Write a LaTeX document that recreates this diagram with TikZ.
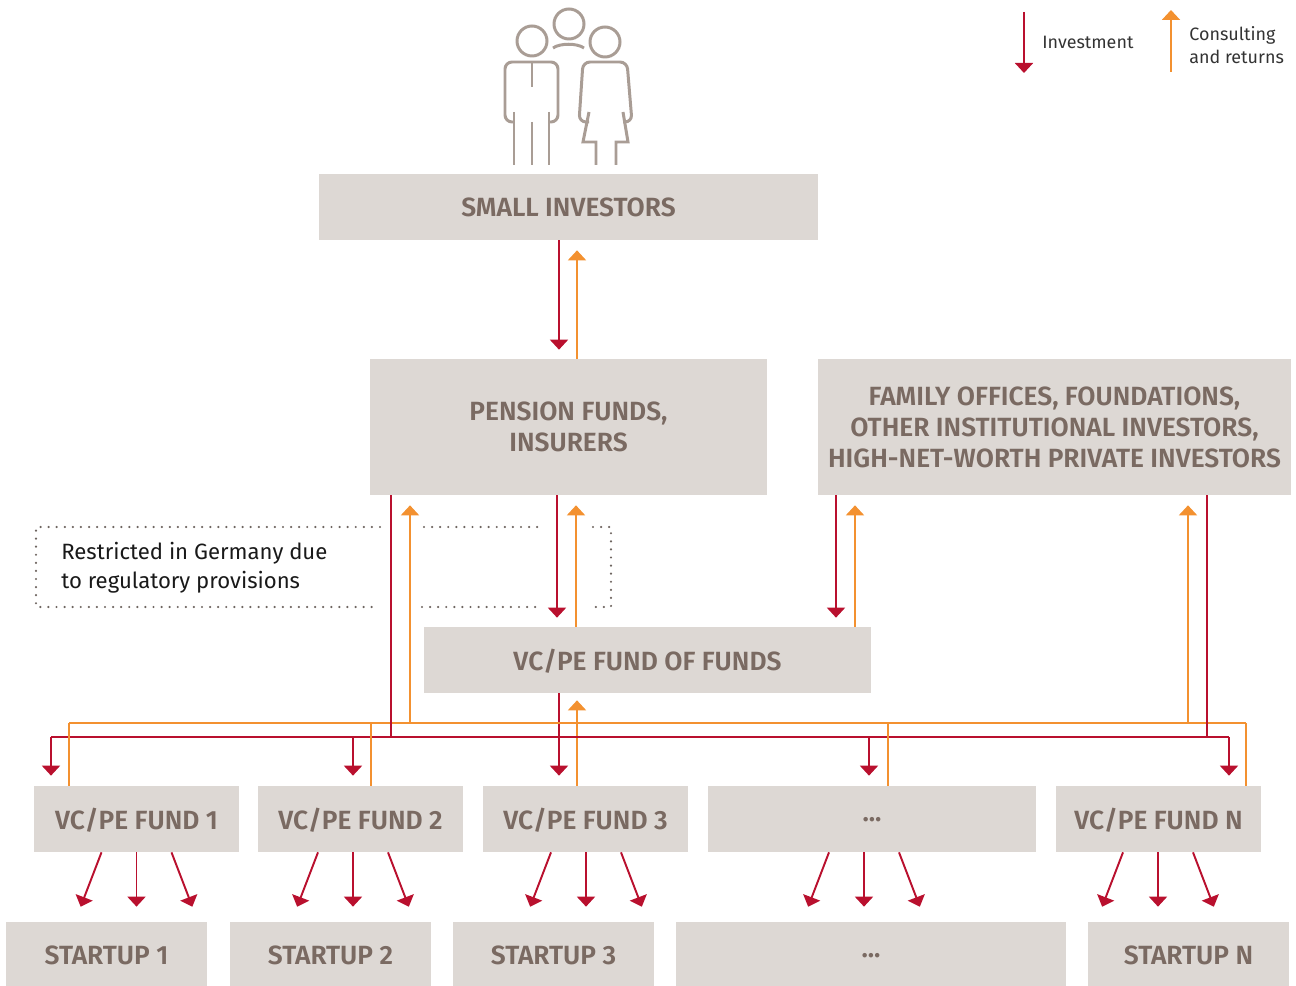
\documentclass[tikz,border=0pt]{standalone}
\usepackage{fontspec}
\setmainfont{Fira Sans}
\newfontfamily\boxfont{Fira Sans SemiBold}
\usetikzlibrary{arrows.meta}

\definecolor{boxfill}{RGB}{221,216,212}
\definecolor{boxtext}{RGB}{122,106,98}
\definecolor{invred}{RGB}{185,16,46}
\definecolor{retorange}{RGB}{243,145,48}
\definecolor{icongray}{RGB}{169,157,149}
\definecolor{dotgray}{RGB}{110,101,96}

\tikzset{
  box/.style={fill=boxfill, text=boxtext, font=\boxfont\fontsize{15}{17.5}\selectfont,
    align=center, inner sep=0pt, minimum height=1.32cm, text depth=-0.08cm},
  inv/.style={draw=invred, line width=1.1pt, -{Triangle[width=0.36cm,length=0.2cm]}},
  ret/.style={draw=retorange, line width=1.1pt, -{Triangle[width=0.36cm,length=0.2cm]}},
  invline/.style={draw=invred, line width=1.1pt},
  retline/.style={draw=retorange, line width=1.1pt},
  icon/.style={draw=icongray, line width=1.7pt},
  restrict/.style={draw=dotgray, line width=1.4pt, line cap=round, dash pattern=on 0pt off 4.6pt},
  legend/.style={font=\fontsize{10.2}{13.5}\selectfont, text=black!80, align=left,
    inner sep=0pt, anchor=west}
}

\begin{document}
\begin{tikzpicture}[x=0.02cm, y=-0.02cm]
         \useasboundingbox (0,0) rectangle (1296,986) ;
         % people
         \draw[icon] (532,41) circle[radius=0.3cm] ;
         \draw[icon] (569,24) circle[radius=0.3cm] ;
         \draw[icon] (605,42) circle[radius=0.3cm] ;
         \draw[icon] (553,48) .. controls (560,43) and (577,43) .. (584,48) ;
         \draw[icon, rounded corners=0.14cm] (514,122) -- (505,122) -- (505,62) -- (558,62) -- (558,122) -- (549,122) ;
         \draw[icon] (514,112) -- (514,165) (549,112) -- (549,165) (532,62) -- (532,87) (532,122) -- (532,165) ;
         \draw[icon, rounded corners=0.14cm] (589,122) -- (579,122) -- (583,62) -- (627,62) -- (632,122) -- (623,122) ;
         \draw[icon] (589,112) -- (583,142) -- (596,142) -- (596,165) ;
         \draw[icon] (623,112) -- (628,142) -- (616,142) -- (616,165) ;
         % legend
         \coordinate (invtop) at (1024,12) ; \coordinate (invbot) at (1024,73) ;
         \draw[inv] (invtop) -- (invbot) ;
         \node[legend] (leginv) at (1042,42) {Investment} ;
         \coordinate (retbot) at (1171,72) ; \coordinate (rettop) at (1171,10) ;
         \draw[ret] (retbot) -- (rettop) ;
         \node[legend] (legret) at (1189,45) {Consulting\\and returns} ;
         % boxes
         \node[box, minimum width=9.98cm] (small) at (568.5,207) {SMALL INVESTORS} ;
         \node[box, minimum width=7.94cm, minimum height=2.72cm] (pension) at (568.5,427) {PENSION FUNDS,\\INSURERS} ;
         \node[box, minimum width=9.46cm, minimum height=2.72cm] (family) at (1054.5,427)
         {FAMILY OFFICES, FOUNDATIONS,\\OTHER INSTITUTIONAL INVESTORS,\\HIGH-NET-WORTH PRIVATE INVESTORS} ;
         \node[box, minimum width=8.94cm] (fof) at (647.5,660) {VC/PE FUND OF FUNDS} ;
         \node[box, minimum width=4.1cm] (fund1) at (136.5,819) {VC/PE FUND 1} ;
         \node[box, minimum width=4.1cm] (fund2) at (360.5,819) {VC/PE FUND 2} ;
         \node[box, minimum width=4.1cm] (fund3) at (585.5,819) {VC/PE FUND 3} ;
         \node[box, minimum width=6.56cm] (funddots) at (872,819) {...} ;
         \node[box, minimum width=4.1cm] (fundN) at (1158.5,819) {VC/PE FUND N} ;
         \node[box, minimum width=4.02cm] (startup1) at (106.5,955) {STARTUP 1} ;
         \node[box, minimum width=4.02cm] (startup2) at (330.5,955) {STARTUP 2} ;
         \node[box, minimum width=4.02cm] (startup3) at (553.5,955) {STARTUP 3} ;
         \node[box, minimum width=7.8cm] (startupdots) at (871,955) {...} ;
         \node[box, minimum width=4.02cm] (startupN) at (1188.5,955) {STARTUP N} ;
         % restricted area
         \draw[restrict] (380,527) -- (36,527) -- (36,607) -- (375,607) ;
         \draw[restrict] (424,527) -- (545,527) ;
         \draw[restrict] (422,607) -- (540,607) ;
         \draw[restrict] (593,527) -- (611,527) -- (611,607) -- (588,607) ;
         \node[anchor=west, align=left, font=\fontsize{12.6}{16.5}\selectfont, inner sep=0pt, text=black!90]
         (restricted) at (61,568) {Restricted in Germany due\\to regulatory provisions} ;
         % investment and returns
         \draw[inv, shorten >=0.18cm] (559,0 |- small.south) -- (559,0 |- pension.north) ;
         \draw[ret, shorten >=0.2cm] (577,0 |- pension.north) -- (577,0 |- small.south) ;
         \draw[inv, shorten >=0.18cm] (557,0 |- pension.south) -- (557,0 |- fof.north) ;
         \draw[ret, shorten >=0.2cm] (576,0 |- fof.north) -- (576,0 |- pension.south) ;
         \draw[inv, shorten >=0.18cm] (836,0 |- family.south) -- (836,0 |- fof.north) ;
         \draw[ret, shorten >=0.2cm] (855,0 |- fof.north) -- (855,0 |- family.south) ;
         \draw[inv, shorten >=0.2cm] (559,0 |- fof.south) -- (559,0 |- fund3.north) ;
         \draw[ret, shorten >=0.14cm] (577,0 |- fund3.north) -- (577,0 |- fof.south) ;
         % direct lines to the funds
         \coordinate (redrow) at (0,737) ; \coordinate (orangerow) at (0,723) ;
         \draw[retline] (69,0 |- orangerow) -- (1246,0 |- orangerow) ;
         \draw[invline] (391,0 |- pension.south) -- (391,0 |- redrow) ;
         \draw[invline] (1207,0 |- family.south) -- (1207,0 |- redrow) ;
         \draw[invline] (51,0 |- redrow) -- (1229,0 |- redrow) ;
         \foreach \x/\f in {51/fund1, 353/fund2, 869/funddots, 1229/fundN}
           \draw[inv, shorten >=0.2cm] (\x,0 |- redrow) -- (\x,0 |- \f.north) ;
         \foreach \x/\f in {69/fund1, 371/fund2, 888/funddots, 1246/fundN}
           \draw[retline] (\x,0 |- \f.north) -- (\x,0 |- orangerow) ;
         \draw[ret, shorten >=0.2cm] (410,0 |- orangerow) -- (410,0 |- pension.south) ;
         \draw[ret, shorten >=0.2cm] (1188,0 |- orangerow) -- (1188,0 |- family.south) ;
         % funds to startups
         \foreach \f/\s/\c in {fund1/startup1/136.5, fund2/startup2/353, fund3/startup3/586,
                               funddots/startupdots/864, fundN/startupN/1158}
         {
           \draw[inv, shorten >=0.32cm] (\c-35,0 |- \f.south) -- (\c-61.6,0 |- \s.north) ;
           \draw[inv, shorten >=0.3cm] (\c,0 |- \f.south) -- (\c,0 |- \s.north) ;
           \draw[inv, shorten >=0.32cm] (\c+35,0 |- \f.south) -- (\c+61.6,0 |- \s.north) ;
         }
      \end{tikzpicture}
\end{document}
